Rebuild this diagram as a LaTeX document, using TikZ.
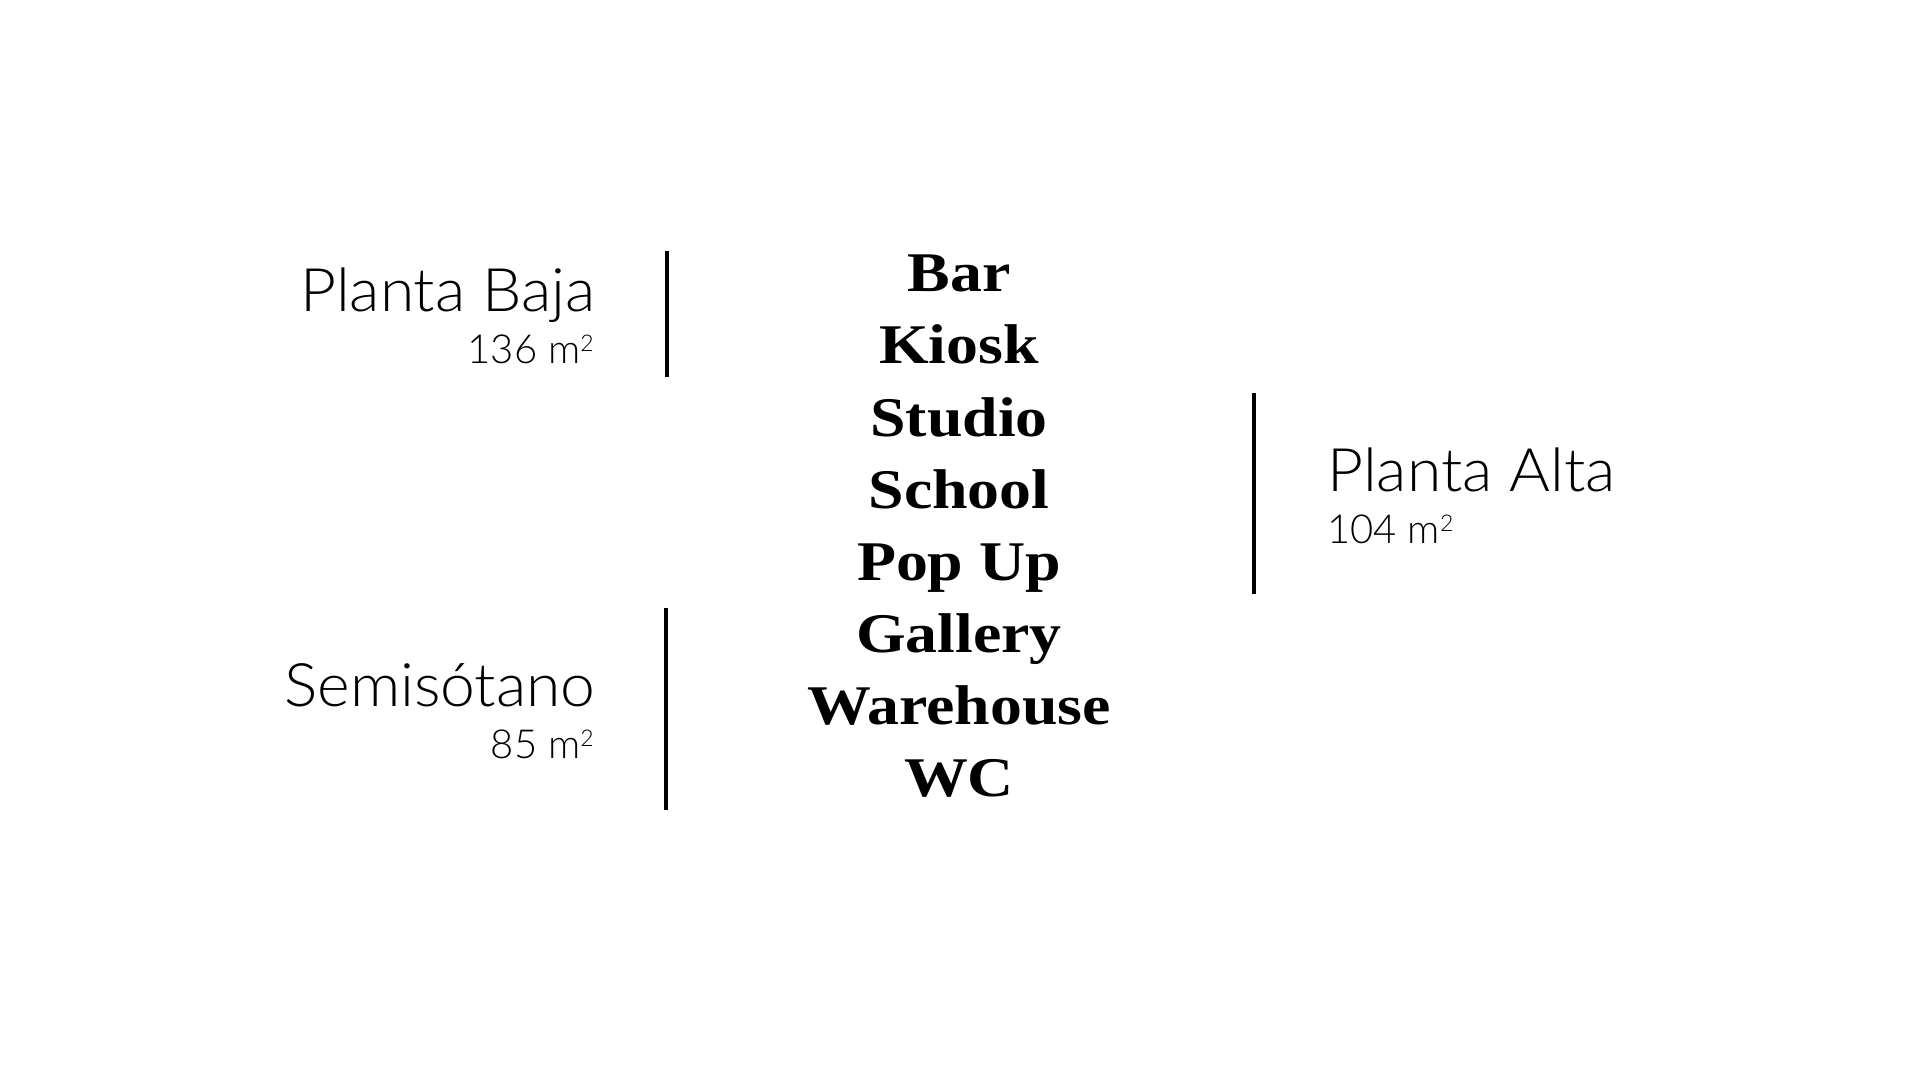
\documentclass[tikz,border=0pt]{standalone}
\usepackage{fontspec}
\usepackage{tikz}
\usetikzlibrary{positioning}
\newfontfamily\floorfont{Lato}[UprightFont=* Light, FakeStretch=1.04]
\newfontfamily\areafont{Lato}[UprightFont=* Light]
\newfontfamily\roomfont{Liberation Serif}[FakeStretch=1.14]
\newcommand{\sqm}{m\raisebox{6pt}{\fontsize{11.5pt}{12pt}\selectfont 2}}

\tikzset{
    floor/.style={font=\floorfont\fontsize{30pt}{36pt}\selectfont, inner sep=0pt},
    area/.style={font=\areafont\fontsize{20pt}{24pt}\selectfont, inner sep=0pt},
    room/.style={font=\roomfont\bfseries\fontsize{28pt}{32pt}\selectfont, inner sep=0pt, anchor=base},
    bar/.style={line width=2pt, black}
}

\begin{document}
\begin{tikzpicture}[x=0.5pt, y=-0.5pt]
    % Page frame
    \fill[white] (0,0) rectangle (1920,1080);
    \useasboundingbox (0,0) rectangle (1920,1080);

    % Room list
    \foreach \w [count=\i] in {Bar,Kiosk,Studio,School,Pop Up,Gallery,Warehouse,WC}
        \node[room] (room\i) at (959,220+72*\i) {\w};

    % Planta Baja
    \node[floor, anchor=base east] (baja) at (596,312) {Planta Baja};
    \node[area, anchor=base east] (bajaarea) at (594,364) {136 \sqm};
    \draw[bar] (667,251) -- (667,377);

    % Semisotano
    \node[floor, anchor=base east] (semi) at (596,706) {Semisótano};
    \node[area, anchor=base east] (semiarea) at (594,758) {85 \sqm};
    \draw[bar] (666,608) -- (666,810);

    % Planta Alta
    \node[floor, anchor=base west] (alta) at (1327,491) {Planta Alta};
    \node[area, anchor=base west] (altaarea) at (1327,543) {104 \sqm};
    \draw[bar] (1254,393) -- (1254,594);
\end{tikzpicture}
\end{document}
